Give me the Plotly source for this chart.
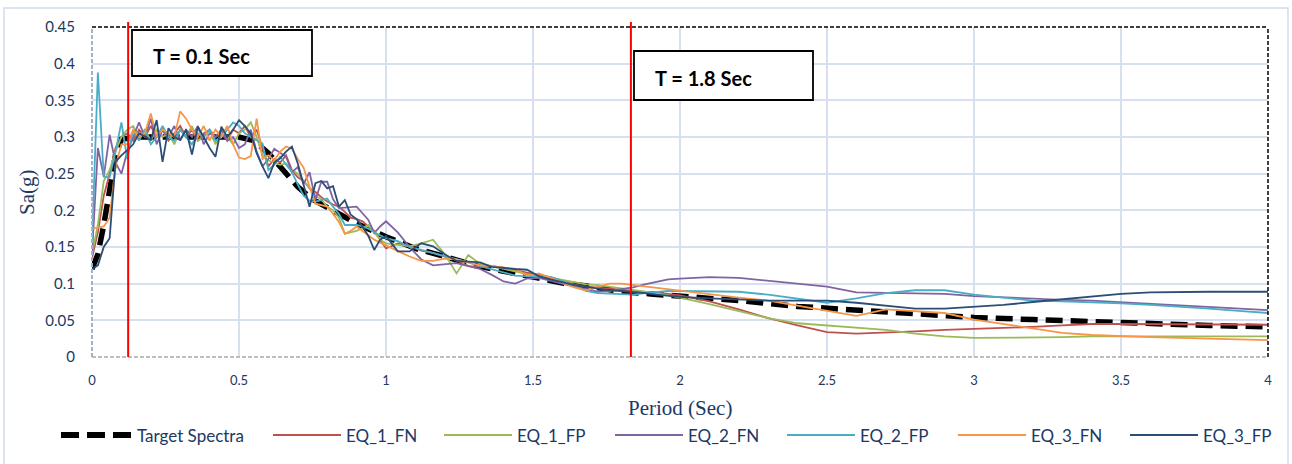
import plotly.graph_objects as go

# ---------------- data ----------------
periods = [0.00, 0.02, 0.04, 0.06, 0.08, 0.10, 0.12, 0.14, 0.16, 0.18,
           0.20, 0.22, 0.24, 0.26, 0.28, 0.30, 0.32, 0.34, 0.36, 0.38,
           0.40, 0.42, 0.44, 0.46, 0.48, 0.50, 0.52, 0.54, 0.56, 0.58,
           0.60, 0.62, 0.64, 0.66, 0.68, 0.70, 0.72, 0.74, 0.76, 0.78,
           0.80, 0.82, 0.84, 0.86, 0.88, 0.90, 0.92, 0.94, 0.96, 0.98, 1.00,
           1.04, 1.08, 1.12, 1.16, 1.20, 1.24, 1.28, 1.32, 1.36, 1.40,
           1.44, 1.48, 1.52, 1.56, 1.60, 1.64, 1.68, 1.72, 1.76, 1.80,
           1.84, 1.88, 1.92, 1.96, 2.00,
           2.1, 2.2, 2.3, 2.4, 2.5, 2.6, 2.7, 2.8, 2.9, 3.0,
           3.1, 3.2, 3.3, 3.4, 3.5, 3.6, 3.7, 3.8, 3.9, 4.0]

eq1_fn = [0.135, 0.170, 0.220, 0.250, 0.285, 0.300, 0.305, 0.295, 0.310, 0.300,
          0.315, 0.300, 0.310, 0.295, 0.305, 0.315, 0.300, 0.310, 0.295, 0.305,
          0.310, 0.300, 0.305, 0.295, 0.310, 0.305, 0.315, 0.300, 0.310, 0.285,
          0.260, 0.270, 0.265, 0.275, 0.255, 0.245, 0.240, 0.230, 0.225, 0.218,
          0.212, 0.208, 0.205, 0.198, 0.190, 0.188, 0.185, 0.178, 0.172, 0.160, 0.148,
          0.155, 0.152, 0.145, 0.142, 0.137, 0.132, 0.124, 0.123, 0.124, 0.122,
          0.118, 0.115, 0.112, 0.109, 0.104, 0.099, 0.096, 0.095, 0.093, 0.092,
          0.090, 0.089, 0.088, 0.086, 0.084,
          0.076, 0.065, 0.053, 0.043, 0.034, 0.032, 0.033, 0.035, 0.037, 0.038,
          0.039, 0.041, 0.043, 0.045, 0.045, 0.045, 0.045, 0.044, 0.044, 0.044]

eq1_fp = [0.140, 0.180, 0.240, 0.255, 0.280, 0.300, 0.310, 0.315, 0.300, 0.310,
          0.295, 0.310, 0.300, 0.305, 0.290, 0.310, 0.300, 0.315, 0.295, 0.300,
          0.310, 0.290, 0.305, 0.300, 0.290, 0.305, 0.310, 0.320, 0.300, 0.275,
          0.268, 0.265, 0.262, 0.264, 0.255, 0.250, 0.240, 0.230, 0.220, 0.215,
          0.205, 0.200, 0.190, 0.168, 0.170, 0.172, 0.176, 0.180, 0.170, 0.160, 0.155,
          0.153, 0.151, 0.155, 0.160, 0.140, 0.114, 0.139, 0.127, 0.124, 0.120,
          0.116, 0.113, 0.110, 0.108, 0.105, 0.102, 0.099, 0.098, 0.096, 0.094,
          0.091, 0.089, 0.087, 0.084, 0.081,
          0.072, 0.062, 0.053, 0.046, 0.043, 0.041, 0.037, 0.032, 0.028, 0.026,
          0.026, 0.026, 0.027, 0.028, 0.028, 0.028, 0.028, 0.028, 0.028, 0.028]

eq2_fn = [0.140, 0.285, 0.246, 0.303, 0.265, 0.250, 0.280, 0.300, 0.320, 0.300,
          0.325, 0.290, 0.310, 0.300, 0.315, 0.295, 0.310, 0.300, 0.315, 0.290,
          0.305, 0.300, 0.310, 0.295, 0.300, 0.285, 0.290, 0.310, 0.280, 0.260,
          0.270, 0.284, 0.278, 0.273, 0.252, 0.259, 0.236, 0.252, 0.214, 0.239,
          0.239, 0.215, 0.203, 0.204, 0.205, 0.205, 0.196, 0.187, 0.169, 0.178, 0.185,
          0.170, 0.150, 0.133, 0.125, 0.127, 0.128, 0.124, 0.120, 0.112, 0.103,
          0.100, 0.107, 0.108, 0.104, 0.099, 0.096, 0.093, 0.089, 0.090, 0.092,
          0.095, 0.099, 0.103, 0.106, 0.107,
          0.109, 0.108, 0.104, 0.100, 0.096, 0.088, 0.087, 0.087, 0.086, 0.083,
          0.081, 0.080, 0.078, 0.077, 0.075, 0.073, 0.071, 0.069, 0.067, 0.064]

eq2_fp = [0.155, 0.388, 0.246, 0.245, 0.280, 0.320, 0.270, 0.310, 0.295, 0.310,
          0.290, 0.300, 0.315, 0.300, 0.295, 0.310, 0.300, 0.290, 0.305, 0.300,
          0.310, 0.295, 0.300, 0.310, 0.320, 0.315, 0.305, 0.300, 0.296, 0.291,
          0.255, 0.262, 0.273, 0.263, 0.252, 0.235, 0.220, 0.213, 0.212, 0.214,
          0.216, 0.205, 0.195, 0.180, 0.180, 0.180, 0.178, 0.175, 0.170, 0.166, 0.162,
          0.158, 0.150, 0.146, 0.142, 0.137, 0.133, 0.129, 0.124, 0.120, 0.115,
          0.111, 0.110, 0.109, 0.109, 0.104, 0.097, 0.090, 0.087, 0.086, 0.085,
          0.085, 0.087, 0.089, 0.090, 0.090,
          0.090, 0.089, 0.085, 0.079, 0.074, 0.080, 0.087, 0.091, 0.091, 0.085,
          0.081, 0.077, 0.076, 0.075, 0.073, 0.071, 0.069, 0.066, 0.063, 0.060]

eq3_fn = [0.175, 0.176, 0.178, 0.190, 0.260, 0.290, 0.290, 0.310, 0.300, 0.305,
          0.332, 0.300, 0.310, 0.305, 0.300, 0.335, 0.325, 0.310, 0.300, 0.315,
          0.295, 0.310, 0.300, 0.315, 0.290, 0.272, 0.270, 0.274, 0.325, 0.270,
          0.275, 0.268, 0.280, 0.287, 0.284, 0.270, 0.258, 0.232, 0.209, 0.207,
          0.205, 0.195, 0.184, 0.168, 0.172, 0.178, 0.172, 0.166, 0.160, 0.156, 0.152,
          0.145, 0.137, 0.131, 0.131, 0.134, 0.133, 0.129, 0.125, 0.124, 0.122,
          0.120, 0.111, 0.114, 0.108, 0.102, 0.095, 0.091, 0.095, 0.100, 0.100,
          0.098, 0.096, 0.094, 0.092, 0.090,
          0.085, 0.081, 0.077, 0.070, 0.063, 0.056, 0.065, 0.063, 0.060, 0.051,
          0.045, 0.040, 0.033, 0.030, 0.028, 0.027, 0.026, 0.025, 0.024, 0.023]

eq3_fp = [0.120, 0.125, 0.150, 0.162, 0.266, 0.275, 0.282, 0.290, 0.305, 0.300,
          0.296, 0.323, 0.266, 0.312, 0.300, 0.296, 0.310, 0.276, 0.314, 0.300,
          0.285, 0.273, 0.314, 0.300, 0.310, 0.323, 0.315, 0.305, 0.278, 0.260,
          0.244, 0.265, 0.271, 0.280, 0.287, 0.264, 0.235, 0.205, 0.237, 0.240,
          0.230, 0.233, 0.205, 0.214, 0.194, 0.188, 0.178, 0.165, 0.146, 0.160, 0.165,
          0.144, 0.144, 0.155, 0.151, 0.140, 0.131, 0.130, 0.129, 0.123, 0.121,
          0.120, 0.119, 0.110, 0.106, 0.102, 0.098, 0.096, 0.093, 0.091, 0.090,
          0.089, 0.087, 0.085, 0.083, 0.082,
          0.080, 0.078, 0.077, 0.077, 0.077, 0.074, 0.070, 0.066, 0.066, 0.068,
          0.071, 0.075, 0.079, 0.083, 0.086, 0.088, 0.089, 0.089, 0.089, 0.089]

target_periods = [0.00, 0.02, 0.04, 0.06, 0.08, 0.10, 0.15, 0.20, 0.30, 0.40,
                  0.50, 0.55, 0.60, 0.65, 0.70, 0.75, 0.80, 0.90, 1.00, 1.10,
                  1.20, 1.30, 1.40, 1.50, 1.60, 1.70, 1.80, 1.90, 2.00, 2.20,
                  2.40, 2.60, 2.80, 3.00, 3.20, 3.40, 3.60, 3.80, 4.00]
target_sa = [0.120, 0.140, 0.180, 0.230, 0.275, 0.297, 0.300, 0.300, 0.300, 0.300,
             0.300, 0.295, 0.278, 0.255, 0.232, 0.215, 0.204, 0.182, 0.164, 0.148,
             0.137, 0.125, 0.117, 0.109, 0.101, 0.096, 0.089, 0.086, 0.083, 0.077,
             0.069, 0.064, 0.060, 0.054, 0.051, 0.048, 0.046, 0.043, 0.041]

series_names = ["EQ_1_FN", "EQ_1_FP", "EQ_2_FN", "EQ_2_FP", "EQ_3_FN", "EQ_3_FP"]
series_values = [eq1_fn, eq1_fp, eq2_fn, eq2_fp, eq3_fn, eq3_fp]
series_colors = ["#C0504D", "#9BBB59", "#8064A2", "#4BACC6", "#F79646", "#2C4D75"]

marker_periods = [0.123, 1.833]
marker_labels = ["T = 0.1 Sec", "T = 1.8 Sec"]

x_ticks = [0, 0.5, 1, 1.5, 2, 2.5, 3, 3.5, 4]
y_ticks = [0, 0.05, 0.1, 0.15, 0.2, 0.25, 0.3, 0.35, 0.4, 0.45]

# ---------------- layout helpers (pixel -> paper) ----------------
W, H = 1292, 464
L, R, T, B = 92, 1268, 27, 357


def px(x):
    return (x - L) / (R - L)


def py(y):
    return (B - y) / (B - T)


TEXT = "#203864"
GRID = "#D6E0F1"

fig = go.Figure()

fig.add_trace(go.Scatter(x=target_periods, y=target_sa, mode="lines",
                         name="Target Spectra", showlegend=False,
                         line=dict(color="black", width=5.5, dash="17px,8px")))
for nm, vals, col in zip(series_names, series_values, series_colors):
    fig.add_trace(go.Scatter(x=periods, y=vals, mode="lines", name=nm,
                             showlegend=False,
                             line=dict(color=col, width=1.8)))

shapes = []
annotations = []

# plot borders
shapes.append(dict(type="line", xref="paper", yref="paper", x0=0, x1=1, y0=1, y1=1,
                   line=dict(color="black", width=1.5, dash="4px,2px")))
shapes.append(dict(type="line", xref="paper", yref="paper", x0=1, x1=1, y0=0, y1=1,
                   line=dict(color="black", width=1.5, dash="4px,2px")))
shapes.append(dict(type="line", xref="paper", yref="paper", x0=0, x1=0, y0=0, y1=1,
                   line=dict(color="#9FB3CF", width=2, dash="4px,2px")))
shapes.append(dict(type="line", xref="paper", yref="paper", x0=0, x1=1, y0=0, y1=0,
                   line=dict(color="#A9A9A9", width=1.5, dash="4px,2px")))
# outer chart frame
shapes.append(dict(type="rect", xref="paper", yref="paper", x0=px(4), x1=px(1288),
                   y0=py(470), y1=py(8), line=dict(color="#D0DBEA", width=1.5)))

# red period markers
for p in marker_periods:
    shapes.append(dict(type="line", xref="x", yref="paper", x0=p, x1=p,
                       y0=0, y1=py(22), line=dict(color="#FF0000", width=2)))

# label boxes
boxes = [(132, 312, 30, 76, 151, 56), (634, 813, 51, 100, 653, 78)]
for (bx0, bx1, by0, by1, tx, ty), lab in zip(boxes, marker_labels):
    shapes.append(dict(type="rect", xref="paper", yref="paper",
                       x0=px(bx0), x1=px(bx1), y0=py(by1), y1=py(by0),
                       fillcolor="white", line=dict(color="black", width=1.8),
                       layer="above"))
    annotations.append(dict(xref="paper", yref="paper", x=px(tx), y=py(ty),
                            xanchor="left", yanchor="middle", showarrow=False,
                            text="<b>%s</b>" % lab,
                            font=dict(family="Lato", size=20, color="black")))

# legend (manual)
leg_y = py(435)
leg_items = [("Target Spectra", "black", 58, 132)]
sym_starts = [273, 444, 615, 787, 958, 1130]
for nm, col, s in zip(series_names, series_colors, sym_starts):
    leg_items.append((nm, col, s, s + 68))
for i, (nm, col, s0, s1) in enumerate(leg_items):
    if i == 0:
        shapes.append(dict(type="line", xref="paper", yref="paper",
                           x0=px(s0 + 3), x1=px(s1), y0=leg_y, y1=leg_y,
                           line=dict(color="black", width=6, dash="18px,8px")))
    else:
        shapes.append(dict(type="line", xref="paper", yref="paper",
                           x0=px(s0), x1=px(s1), y0=leg_y, y1=leg_y,
                           line=dict(color=col, width=2)))
    annotations.append(dict(xref="paper", yref="paper", x=px(s1 + 3), y=leg_y,
                            xanchor="left", yanchor="middle", showarrow=False,
                            text=nm, font=dict(family="Lato", size=17, color=TEXT)))

# axis titles
annotations.append(dict(xref="paper", yref="paper", x=0.5, y=py(408),
                        xanchor="center", yanchor="middle", showarrow=False,
                        text="Period (Sec)",
                        font=dict(family="Liberation Serif", size=21, color=TEXT)))
annotations.append(dict(xref="paper", yref="paper", x=px(27), y=py(192),
                        xanchor="center", yanchor="middle", showarrow=False,
                        textangle=-90, text="Sa(g)",
                        font=dict(family="Liberation Serif", size=21, color=TEXT)))

fig.update_layout(
    width=W, height=H,
    margin=dict(l=L, r=W - R, t=T, b=H - B, pad=0),
    paper_bgcolor="white", plot_bgcolor="white",
    showlegend=False,
    shapes=shapes, annotations=annotations,
    xaxis=dict(range=[0, 4], tickvals=x_ticks, ticktext=[str(v) for v in x_ticks],
               showgrid=True, gridcolor=GRID, gridwidth=1.8, zeroline=False,
               showline=False, ticks="", ticklabelstandoff=14,
               tickfont=dict(family="Lato", size=13, color=TEXT)),
    yaxis=dict(range=[0, 0.45], tickvals=y_ticks, ticktext=[("%g" % v) for v in y_ticks],
               showgrid=True, gridcolor=GRID, gridwidth=1.8, zeroline=False,
               showline=False, ticks="", ticklabelstandoff=16,
               tickfont=dict(family="Lato", size=15, color=TEXT)),
)

fig.write_html("out.html", config={"displayModeBar": False},
               post_script="document.body.style.margin='0';document.body.style.overflow='hidden';")
